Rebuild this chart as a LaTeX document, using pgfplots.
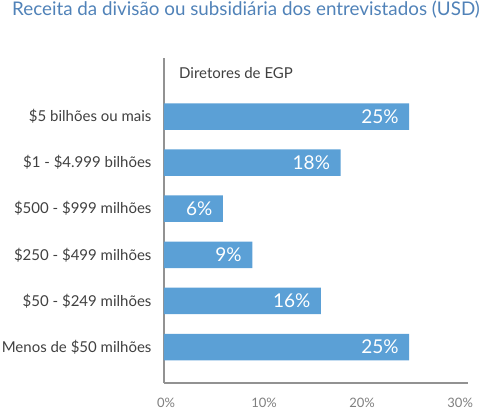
\documentclass[border=0pt]{standalone}
\usepackage{pgfplots}
\pgfplotsset{compat=1.18}
\usepackage{fontspec}
\setmainfont{Lato}
\definecolor{barblue}{HTML}{5BA0D6}
\definecolor{titleblue}{HTML}{5082B8}
\definecolor{txt}{HTML}{404040}
\definecolor{axgray}{HTML}{929292}
\definecolor{tickgray}{HTML}{7F7F7F}
\begin{document}
\begin{tikzpicture}[x=1pt,y=1pt]
\begin{axis}[
  at={(0,0)}, anchor=south west,
  width=304pt, height=325pt, scale only axis,
  xmin=0, xmax=31, ymin=-0.78, ymax=6.27,
  axis x line*=bottom, axis y line*=left,
  axis line style={axgray, line width=1.4pt},
  every outer x axis line/.append style={-},
  every outer y axis line/.append style={-},
  xtick={0,10,20,30},
  xticklabels={0\%,10\%,20\%,30\%},
  ytick={0,1,2,3,4,5},
  yticklabels={Menos de \$50 milhões,\$50 - \$249 milhões,\$250 - \$499 milhões,\$500 - \$999 milhões,\$1 - \$4.999 bilhões,\$5 bilhões ou mais},
  major tick length=0pt,
  xticklabel style={text=tickgray, font=\fontsize{13}{15}\selectfont, yshift=-11.5pt, xshift=2pt},
  yticklabel style={text=txt, font=\fontsize{15}{17}\selectfont, xshift=-9pt},
  xbar, bar width=26.5pt,
  nodes near coords={\pgfmathprintnumber{\pgfplotspointmeta}\%},
  point meta=x,
  /pgf/number format/assume math mode=true,
  nodes near coords style={anchor=east, text=white, font=\fontsize{19}{22}\selectfont, xshift=-7pt},
  clip=false,
]
\addplot[fill=barblue, draw=none] coordinates {
  (25,0) (16,1) (9,2) (6,3) (18,4) (25,5)
};
\end{axis}
\pgfresetboundingbox
\path[use as bounding box] (-164,-27) rectangle (324,383);
\node[anchor=base west, inner sep=0, text=titleblue, font=\fontsize{18.8}{22}\selectfont] at (-152,367) {Receita da divisão ou subsidiária dos entrevistados (USD)};
\node[anchor=base west, inner sep=0, text=txt, font=\fontsize{15}{17}\selectfont] at (15,304) {Diretores de EGP};
\end{tikzpicture}
\end{document}
